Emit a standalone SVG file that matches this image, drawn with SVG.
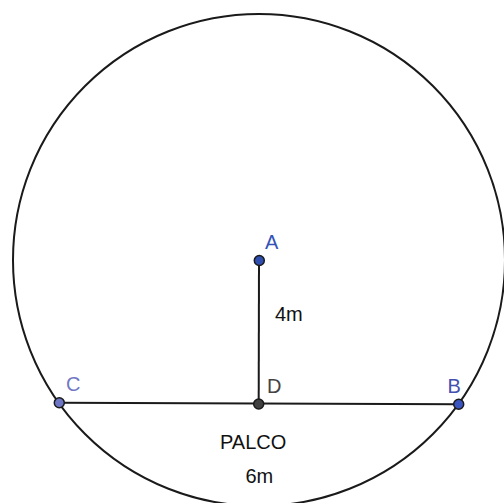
<svg xmlns="http://www.w3.org/2000/svg" width="504" height="503" viewBox="0 0 504 503">
<style>
.ln{stroke:#1a1a1a;stroke-width:2;fill:none}
.pt{stroke:#1a1a1a;stroke-width:1.5}
.t{font-family:"Liberation Sans",Arial,sans-serif;font-size:20px}
</style>
<rect width="504" height="503" fill="#ffffff"/>
<g id="connectors">
<circle id="circle" class="ln" cx="259" cy="260" r="246"/>
<line class="ln" x1="259" y1="260.5" x2="258.7" y2="404"/>
<line class="ln" x1="59.3" y1="402.7" x2="458.7" y2="404.3"/>
</g>
<g id="node-A">
<circle class="pt" cx="259.3" cy="260.5" r="5" fill="#2f4fb0"/>
<text class="t" x="265" y="248.5" fill="#3352b8">A</text>
</g>
<g id="node-C">
<circle class="pt" cx="59.3" cy="402.7" r="5" fill="#6d76c4"/>
<text class="t" x="66" y="391" fill="#7077c4">C</text>
</g>
<g id="node-D">
<circle class="pt" cx="258.7" cy="404" r="5" fill="#404040"/>
<text class="t" x="267" y="392.7" fill="#444444">D</text>
</g>
<g id="node-B">
<circle class="pt" cx="458.7" cy="404.3" r="5" fill="#3a55c0"/>
<text class="t" x="447.5" y="392.7" fill="#4450b0">B</text>
</g>
<g id="labels">
<text class="t" x="275" y="320.7" fill="#111111">4m</text>
<text class="t" x="220" y="449" fill="#111111">PALCO</text>
<text class="t" x="245.5" y="482.7" fill="#111111">6m</text>
</g>
</svg>
